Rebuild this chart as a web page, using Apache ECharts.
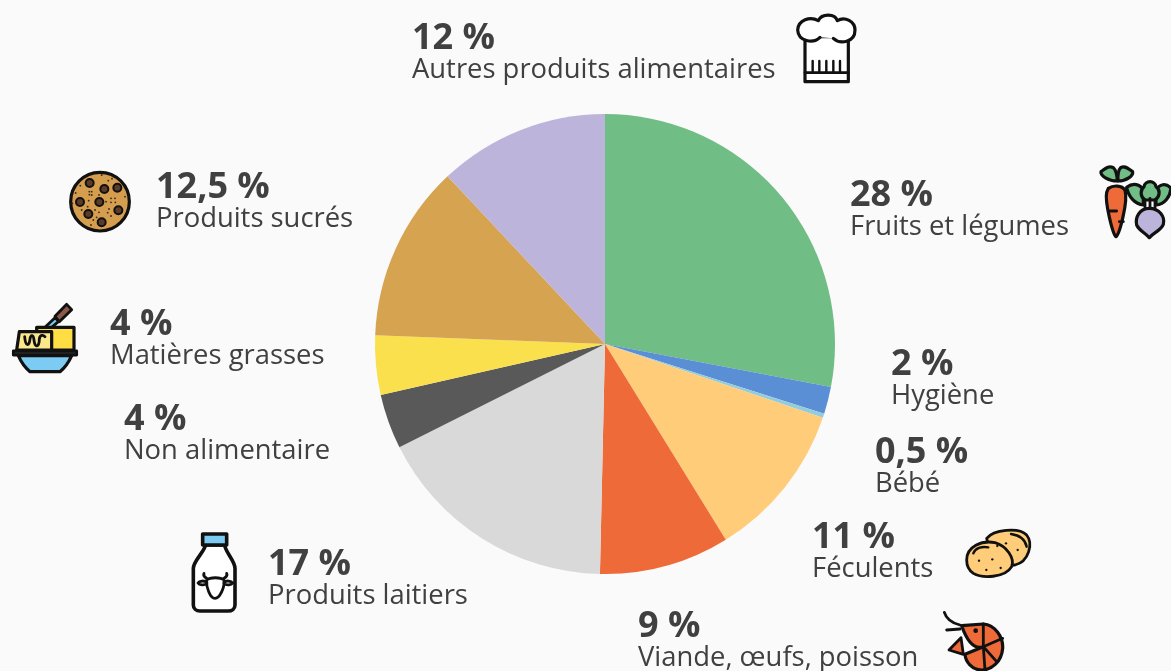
<!DOCTYPE html>
<html>
<head>
<meta charset="utf-8">
<style>
  html, body { margin: 0; height: 100%; background: #fafafa; }
  #chart { width: 1171px; height: 671px; }
</style>
<script src="https://cdn.jsdelivr.net/npm/echarts@6/dist/echarts.min.js"></script>
</head>
<body>
<div id="chart"></div>
<script>
const categories = ['Fruits et légumes', 'Hygiène', 'Bébé', 'Féculents', 'Viande, œufs, poisson',
  'Produits laitiers', 'Non alimentaire', 'Matières grasses', 'Produits sucrés', 'Autres produits alimentaires']
// printed percentages
const printed = ['28 %', '2 %', '0,5 %', '11 %', '9 %', '17 %', '4 %', '4 %', '12,5 %', '12 %']
// slice sizes as measured on the picture, they differ a little from what is printed
const shares = [28, 1.9, 0.3, 11, 9.15, 17.25, 3.85, 4.15, 12.4, 12]
const colors = ['#70BD85', '#5A8FD6', '#93CDDD', '#FFCC7A', '#EE6A39', '#D9D9D9', '#595959', '#F9E04C', '#D6A350', '#BCB4DB']

// left edge / top edge of each text block
const labelX = [850, 891, 875, 812, 638, 268, 124, 110, 156, 412]
const labelY = [180, 349, 437, 522, 611, 549, 404, 309, 172, 23]

const INK = '#111'
const SW = 10
const STROKE_GAIN = 1.2

function icon(x, y, parts) {
  return { type: 'group', x, y, scaleX: 1 / 3, scaleY: 1 / 3, silent: true, children: parts }
}
function p(d, fill, width) {
  return {
    type: 'path', shape: { pathData: d },
    style: { fill: fill || 'none', stroke: INK, lineWidth: (width || SW) * STROKE_GAIN, lineJoin: 'round', lineCap: 'round' }
  }
}
function dot(cx, cy, r, fill, width) {
  return {
    type: 'circle', shape: { cx, cy, r },
    style: { fill: fill || INK, stroke: width === 0 ? 'none' : INK, lineWidth: (width == null ? SW : width) * STROKE_GAIN }
  }
}

const chefHat = icon(780, 0, [
  p('M75,110 L75,245 L205,245 L205,110 Z', '#fff', 8),
  p('M120,112 C100,132 55,125 53,90 C55,60 90,48 115,62 C125,40 165,40 172,62 C195,48 225,65 225,90 C225,128 180,134 160,115', '#fff', 8),
  p('M75,218 L205,218', null, 7),
  p('M98,183 L98,218 M118,183 L118,218 M139,183 L139,218 M160,183 L160,218 M180,183 L180,218', null, 6)
])

const vegetables = icon(1090, 155, [
  p('M82,78 C55,78 30,62 33,50 C45,42 55,30 70,38 C78,45 81,60 82,78 Z', '#70BD85', 8),
  p('M84,78 C110,78 130,62 128,50 C115,42 105,30 92,38 C85,45 83,60 84,78 Z', '#70BD85', 8),
  p('M55,100 C70,90 95,90 105,105 C115,140 88,238 78,245 C68,238 44,140 50,112 Z', '#EE6A39', 8),
  p('M60,168 L80,168 M88,200 L100,200', null, 7),
  p('M160,150 C135,148 115,125 110,97 C130,82 150,88 160,105 Z', '#70BD85', 8),
  p('M198,150 C225,148 240,125 243,100 C228,82 208,88 198,105 Z', '#70BD85', 8),
  p('M165,135 C150,125 150,105 162,95 C165,75 195,75 198,95 C212,105 210,125 195,135 Z', '#70BD85', 8),
  p('M165,160 L165,135 M180,160 L180,130 M195,160 L195,135', null, 7),
  p('M178,160 C148,160 135,188 140,210 C148,228 165,232 178,248 C190,232 212,228 220,208 C226,185 208,160 178,160 Z', '#BCB4DB', 8)
])

const crumbs = [[140, 45], [76, 77], [160, 62], [171, 56], [103, 95], [110, 95], [103, 104], [110, 105], [62, 99], [132, 105],
  [168, 115], [180, 115], [181, 127], [168, 127], [101, 122], [98, 140], [153, 125], [132, 157], [162, 147], [158, 158], [125, 172],
  [115, 180], [168, 168], [52, 130], [80, 150], [210, 110], [120, 150], [108, 195]]
const chips = [[104, 69], [148, 87], [187, 83], [75, 126], [133, 126], [100, 162], [190, 151], [140, 187]]
const cookie = icon(55, 160, [
  dot(135, 125, 88, '#D59E4E', 8),
  ...chips.map(c => dot(c[0], c[1], 12, '#5C3B2A', 5)),
  ...crumbs.map(c => dot(c[0], c[1], 2.8, '#3a2a1a', 0))
])

const butter = icon(0, 295, [
  p('M135,97 L165,68 L176,79 L155,97 Z', '#7BCBF3', 7),
  p('M165,64 L200,28 L215,44 L178,80 Z', '#8C5A4A', 7),
  p('M110,97 L222,97 L222,165 L110,165 Z', '#FFDD44', 8),
  p('M58,110 L155,110 L155,165 L50,165 Z', '#FBE88A', 8),
  p('M74,125 C76,155 88,155 90,132 C92,118 100,118 102,135 C104,160 118,158 118,132 C120,118 130,120 135,125', null, 7),
  p('M40,168 L230,168 L230,180 L40,180 Z', '#333', 7),
  p('M55,182 L215,182 C205,205 190,222 180,230 L90,230 C80,222 65,205 55,182 Z', '#7BCBF3', 8)
])

const milk = icon(180, 525, [
  p('M75,60 L135,60 L135,65 C140,85 165,110 165,130 L165,240 C165,252 155,258 145,258 L60,258 C48,258 40,250 40,240 L40,130 C40,110 68,85 75,65 Z', '#fff', 9),
  p('M68,27 L140,27 L140,60 L68,60 Z', '#7BCBF3', 9),
  p('M80,165 C90,156 122,156 132,165 C135,185 120,220 105,220 C90,220 78,185 80,165 Z', '#fff', 7),
  p('M80,160 C72,156 70,150 72,145 M132,160 C140,156 142,150 140,145', null, 7),
  p('M80,172 C72,165 58,168 54,174 C58,180 72,182 80,176 M132,172 C140,165 154,168 158,174 C154,180 140,182 132,176', '#fff', 7)
])

const potatoes = icon(955, 520, [
  p('M95,55 C115,30 190,20 215,45 C235,70 222,125 180,135 C150,140 100,90 95,55 Z', '#FFCC7A', 7),
  p('M35,120 C35,80 80,60 120,68 C155,78 180,115 170,140 C150,175 80,175 55,160 C40,150 35,135 35,120 Z', '#FFCC7A', 7),
  p('M168,42 C190,45 210,55 215,80 M55,100 C60,85 80,78 100,82', null, 6),
  dot(153, 70, 3.5, INK, 0), dot(188, 90, 3.5, INK, 0), dot(127, 78, 3.5, INK, 0),
  dot(72, 122, 3.5, INK, 0), dot(112, 118, 3.5, INK, 0), dot(94, 150, 3.5, INK, 0), dot(137, 144, 3.5, INK, 0)
])

const shrimp = icon(935, 605, [
  p('M28,22 C35,45 55,55 75,60 M35,75 L75,72', null, 7),
  p('M80,62 L145,57 C180,60 205,95 203,130 C200,170 170,195 140,195 C110,195 92,170 90,148 L145,125 C115,135 95,105 80,62 Z', '#EE6A39', 8),
  p('M78,98 L42,135 L85,148 Z', '#EE6A39', 7),
  p('M145,57 L145,125 L203,100 M145,125 L185,170 M145,125 L150,195', null, 7),
  dot(122, 77, 7, INK, 0)
])

const icons = [chefHat, vegetables, cookie, butter, milk, potatoes, shrimp]

const chart = echarts.init(document.getElementById('chart'))
chart.setOption({
  animation: false,
  backgroundColor: '#fafafa',
  textStyle: { fontFamily: '"Open Sans", sans-serif' },
  series: [{
    type: 'pie',
    center: [605, 344],
    radius: [0, 230],
    startAngle: 90,
    clockwise: true,
    silent: true,
    avoidLabelOverlap: false,
    data: categories.map((name, i) => ({ name, value: shares[i], itemStyle: { color: colors[i] } })),
    label: {
      show: true,
      position: 'outside',
      overflow: 'none',
      formatter: (d) => '{v|' + printed[d.dataIndex] + '}\n{n|' + d.name + '}',
      rich: {
        v: { fontSize: 36, fontWeight: 700, color: '#404040', lineHeight: 32, fontFamily: '"Open Sans", sans-serif' },
        n: { fontSize: 27.4, color: '#404040', lineHeight: 30, fontFamily: '"Open Sans", sans-serif' }
      }
    },
    labelLine: { show: false },
    labelLayout: (params) => ({
      x: labelX[params.dataIndex], y: labelY[params.dataIndex], align: 'left', verticalAlign: 'top', hideOverlap: false
    })
  }, {
    type: 'custom',
    coordinateSystem: 'none',
    silent: true,
    data: [0],
    renderItem: () => ({ type: 'group', children: icons })
  }]
})
</script>
</body>
</html>
